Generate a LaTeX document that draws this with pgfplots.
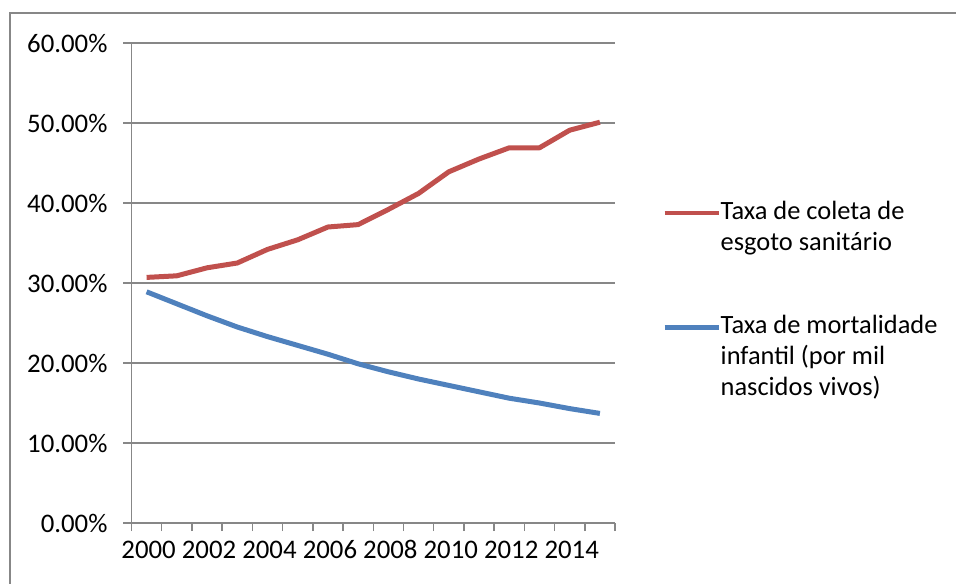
\documentclass[border=0pt]{standalone}
\usepackage{pgfplots}
\pgfplotsset{compat=1.18}
\usepackage{fontspec}
\setmainfont{Carlito}
\definecolor{exred}{HTML}{C0504D}
\definecolor{exblue}{HTML}{4F81BD}
\definecolor{gridgray}{HTML}{878787}
\begin{document}
\begin{tikzpicture}[font=\fontsize{13.2}{15.5}\selectfont]
\path[use as bounding box] (0,0) rectangle (478pt,-291.5pt);
\draw[gridgray, line width=1pt] (5pt,-330pt) -- (5pt,-6.75pt) -- (520pt,-6.75pt);
\begin{axis}[
  at={(65.75pt,-261.5pt)}, anchor=south west,
  scale only axis, width=241.75pt, height=240pt,
  xmin=-0.5, xmax=15.5, ymin=0, ymax=60,
  axis x line*=bottom, axis y line*=left,
  axis line style={gridgray, line width=0.75pt},
  tick align=outside,
  major tick length=4pt, minor tick length=4pt,
  xtick={0,2,...,14},
  xticklabels={2000,2002,2004,2006,2008,2010,2012,2014},
  major x tick style={draw=none},
  minor xtick={-0.5,0.5,...,15.5},
  minor x tick style={gridgray, line width=0.75pt},
  ytick={0,10,...,60},
  yticklabels={0.00\%,10.00\%,20.00\%,30.00\%,40.00\%,50.00\%,60.00\%},
  major y tick style={gridgray, line width=0.75pt},
  ymajorgrids,
  major grid style={gridgray, line width=0.75pt},
  tick label style={font=\fontsize{13.4}{15.5}\selectfont, text=black},
  xticklabel style={text height=8.5pt, text depth=0pt, yshift=-1.5pt, xshift=1pt},
  yticklabel style={xshift=-4.5pt},
  legend cell align=left,
  legend image code/.code={\draw[#1, line width=2.2pt] (0pt,-1.5pt) -- (27pt,-1.5pt);},
  legend style={at={(1.097,0.679)}, anchor=north west, draw=none, fill=none,
    inner sep=0pt, row sep=45pt,
    nodes={inner sep=0pt, text=black},
    /tikz/every even column/.append style={column sep=2pt}},
]
\addplot[exred, line width=2.5pt, line join=round] coordinates {
(0,30.7) (1,30.9) (2,31.9) (3,32.5) (4,34.2) (5,35.4) (6,37.0) (7,37.3)
(8,39.2) (9,41.2) (10,43.9) (11,45.5) (12,46.9) (13,46.9) (14,49.1) (15,50.1)};
\addlegendentry{\begin{tabular}[t]{@{}l@{}}Taxa de coleta de\\esgoto sanitário\end{tabular}}
\addplot[exblue, line width=2.5pt, line join=round] coordinates {
(0,28.9) (1,27.4) (2,25.9) (3,24.5) (4,23.3) (5,22.2) (6,21.1) (7,19.9)
(8,18.9) (9,18.0) (10,17.2) (11,16.4) (12,15.6) (13,15.0) (14,14.3) (15,13.7)};
\addlegendentry{\begin{tabular}[t]{@{}l@{}}Taxa de mortalidade\\infantil (por mil\\nascidos vivos)\end{tabular}}
\end{axis}
\end{tikzpicture}
\end{document}
